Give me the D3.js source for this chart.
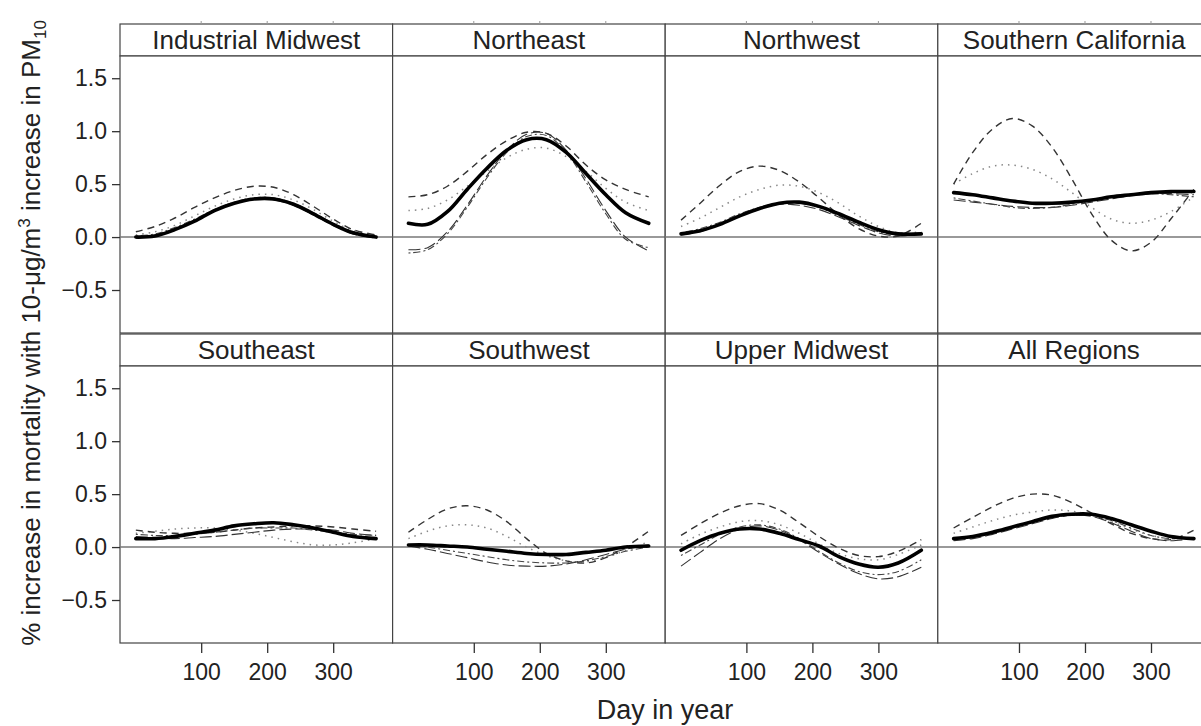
<!DOCTYPE html>
<html>
<head>
<meta charset="utf-8">
<script src="https://cdn.jsdelivr.net/npm/d3@7"></script>
<style>
  body { margin: 0; background: #fff; }
  text { font-family: "Liberation Sans", Arial, sans-serif; fill: #222; }
</style>
</head>
<body>
<div id="chart"></div>
<script>
const regions = ["Industrial Midwest", "Northeast", "Northwest", "Southern California",
                 "Southeast", "Southwest", "Upper Midwest", "All Regions"];
const days = [1, 30, 60, 90, 120, 150, 180, 210, 240, 270, 300, 330, 365];
const xTicks = [100, 200, 300];
const yTicks = [-0.5, 0, 0.5, 1.0, 1.5];

// one row per region, values at the days above
const solid = [
  [0.00, 0.01, 0.07, 0.15, 0.25, 0.32, 0.36, 0.36, 0.31, 0.22, 0.12, 0.04, 0.00],
  [0.13, 0.12, 0.24, 0.45, 0.65, 0.82, 0.92, 0.92, 0.80, 0.60, 0.40, 0.23, 0.13],
  [0.03, 0.06, 0.12, 0.20, 0.27, 0.32, 0.33, 0.29, 0.22, 0.14, 0.07, 0.03, 0.03],
  [0.42, 0.40, 0.37, 0.34, 0.32, 0.32, 0.33, 0.35, 0.38, 0.40, 0.42, 0.43, 0.43],
  [0.08, 0.08, 0.10, 0.13, 0.16, 0.20, 0.22, 0.23, 0.21, 0.18, 0.14, 0.10, 0.08],
  [0.02, 0.02, 0.01, 0.00, -0.02, -0.04, -0.06, -0.07, -0.07, -0.05, -0.03, 0.00, 0.01],
  [-0.03, 0.06, 0.13, 0.17, 0.17, 0.13, 0.07, 0.01, -0.09, -0.16, -0.19, -0.15, -0.03],
  [0.08, 0.10, 0.14, 0.19, 0.24, 0.29, 0.31, 0.31, 0.27, 0.21, 0.15, 0.10, 0.08]
];
const dashed = [
  [0.05, 0.10, 0.18, 0.28, 0.37, 0.44, 0.48, 0.47, 0.40, 0.29, 0.17, 0.07, 0.02],
  [0.38, 0.40, 0.48, 0.62, 0.78, 0.91, 0.99, 0.98, 0.86, 0.68, 0.54, 0.45, 0.38],
  [0.16, 0.32, 0.49, 0.62, 0.67, 0.63, 0.52, 0.37, 0.21, 0.08, 0.01, 0.01, 0.13],
  [0.50, 0.80, 1.02, 1.12, 1.05, 0.85, 0.55, 0.22, -0.03, -0.13, -0.05, 0.17, 0.45],
  [0.16, 0.14, 0.13, 0.13, 0.14, 0.16, 0.18, 0.19, 0.20, 0.20, 0.19, 0.17, 0.15],
  [0.14, 0.26, 0.36, 0.39, 0.35, 0.24, 0.08, -0.06, -0.13, -0.15, -0.10, 0.00, 0.15],
  [0.11, 0.22, 0.32, 0.39, 0.41, 0.35, 0.23, 0.10, -0.01, -0.08, -0.09, -0.04, 0.07],
  [0.18, 0.28, 0.38, 0.46, 0.50, 0.49, 0.42, 0.32, 0.22, 0.13, 0.08, 0.07, 0.16]
];
const dotted = [
  [0.02, 0.05, 0.11, 0.20, 0.29, 0.36, 0.40, 0.40, 0.35, 0.26, 0.15, 0.06, 0.02],
  [0.25, 0.27, 0.35, 0.48, 0.62, 0.75, 0.83, 0.84, 0.76, 0.62, 0.46, 0.33, 0.25],
  [0.10, 0.18, 0.28, 0.38, 0.45, 0.49, 0.48, 0.42, 0.32, 0.20, 0.10, 0.04, 0.05],
  [0.50, 0.60, 0.67, 0.68, 0.64, 0.55, 0.42, 0.28, 0.17, 0.13, 0.16, 0.24, 0.38],
  [0.13, 0.15, 0.17, 0.18, 0.18, 0.16, 0.13, 0.09, 0.05, 0.02, 0.02, 0.04, 0.08],
  [0.08, 0.15, 0.20, 0.21, 0.18, 0.10, 0.00, -0.08, -0.13, -0.14, -0.10, -0.03, 0.05],
  [0.03, 0.12, 0.19, 0.24, 0.25, 0.21, 0.13, 0.03, -0.06, -0.11, -0.12, -0.07, 0.02],
  [0.13, 0.19, 0.25, 0.30, 0.33, 0.35, 0.34, 0.30, 0.24, 0.17, 0.11, 0.08, 0.09]
];
const longdash = [
  [-0.01, 0.02, 0.08, 0.16, 0.25, 0.32, 0.36, 0.35, 0.30, 0.21, 0.11, 0.03, -0.01],
  [-0.12, -0.10, 0.05, 0.30, 0.58, 0.82, 0.97, 0.98, 0.82, 0.55, 0.25, 0.00, -0.13],
  [0.02, 0.05, 0.12, 0.20, 0.27, 0.31, 0.30, 0.26, 0.19, 0.11, 0.04, 0.01, 0.03],
  [0.35, 0.33, 0.31, 0.29, 0.28, 0.28, 0.30, 0.33, 0.36, 0.39, 0.41, 0.41, 0.40],
  [0.10, 0.09, 0.08, 0.09, 0.10, 0.12, 0.14, 0.16, 0.17, 0.17, 0.16, 0.13, 0.11],
  [0.01, -0.02, -0.06, -0.10, -0.14, -0.17, -0.18, -0.18, -0.16, -0.12, -0.07, -0.02, 0.02],
  [-0.18, -0.05, 0.08, 0.17, 0.20, 0.16, 0.07, -0.05, -0.16, -0.25, -0.30, -0.28, -0.19],
  [0.06, 0.08, 0.12, 0.17, 0.22, 0.27, 0.30, 0.29, 0.23, 0.15, 0.08, 0.06, 0.08]
];
const dotdash = [
  [0.01, 0.03, 0.09, 0.17, 0.26, 0.33, 0.37, 0.37, 0.32, 0.23, 0.13, 0.05, 0.00],
  [-0.15, -0.12, 0.03, 0.28, 0.56, 0.80, 0.95, 0.96, 0.80, 0.52, 0.22, -0.02, -0.10],
  [0.04, 0.08, 0.14, 0.22, 0.28, 0.32, 0.32, 0.28, 0.20, 0.12, 0.05, 0.02, 0.04],
  [0.37, 0.34, 0.31, 0.28, 0.27, 0.28, 0.31, 0.35, 0.38, 0.40, 0.41, 0.40, 0.38],
  [0.12, 0.11, 0.11, 0.12, 0.14, 0.16, 0.18, 0.18, 0.18, 0.16, 0.14, 0.12, 0.11],
  [0.02, 0.00, -0.03, -0.06, -0.09, -0.12, -0.14, -0.15, -0.15, -0.13, -0.09, -0.04, 0.00],
  [-0.08, 0.02, 0.12, 0.19, 0.21, 0.17, 0.08, -0.04, -0.15, -0.23, -0.26, -0.23, -0.12],
  [0.07, 0.09, 0.13, 0.18, 0.23, 0.28, 0.30, 0.30, 0.25, 0.18, 0.11, 0.08, 0.09]
];

const W = 1201, H = 726;
const plotLeft = 120, plotTop = 24;
const colW = 272.6, stripH = 32, panelH = 277, rowH = stripH + panelH + 1;
const frame = "#444";
const tickFont = "23px";

const svg = d3.select("#chart").append("svg")
    .attr("width", W)
    .attr("height", H);

const x = d3.scaleLinear().domain([-23, 390]).range([0, colW]);
const y = d3.scaleLinear().domain([-0.906, 1.71]).range([panelH, 0]);

// draw order: thin lines first, thick solid on top
const series = [
    { data: dotted, stroke: "#888", width: 1.5, dash: "1.5,5" },
    { data: dashed, stroke: "#333", width: 1.4, dash: "7,5" },
    { data: longdash, stroke: "#333", width: 1.1, dash: "12,4" },
    { data: dotdash, stroke: "#444", width: 1.1, dash: "2,3,7,3" },
    { data: solid, stroke: "#000", width: 3.6, dash: null }
];

const line = d3.line()
    .x((d, i) => x(days[i]))
    .y(d => y(d))
    .curve(d3.curveCatmullRom.alpha(0.5));

regions.forEach((name, r) => {
    const col = r % 4, row = Math.floor(r / 4);
    const g = svg.append("g")
        .attr("transform", "translate(" + (plotLeft + col * colW) + "," + (plotTop + row * rowH) + ")");

    // strip
    g.append("rect")
        .attr("width", colW).attr("height", stripH)
        .attr("fill", "#fff").attr("stroke", frame).attr("stroke-width", 1.2);
    g.append("text")
        .attr("x", colW / 2).attr("y", 25)
        .attr("text-anchor", "middle")
        .style("font-size", "26px")
        .text(name);

    const p = g.append("g").attr("transform", "translate(0," + stripH + ")");
    p.append("rect")
        .attr("width", colW).attr("height", panelH)
        .attr("fill", "#fff").attr("stroke", frame).attr("stroke-width", 1.2);

    // zero reference line
    p.append("line")
        .attr("x1", 0).attr("x2", colW)
        .attr("y1", y(0)).attr("y2", y(0))
        .attr("stroke", "#777").attr("stroke-width", 1.5);

    series.forEach(s => {
        p.append("path")
            .datum(s.data[r])
            .attr("fill", "none")
            .attr("stroke", s.stroke)
            .attr("stroke-width", s.width)
            .attr("stroke-dasharray", s.dash)
            .attr("stroke-linecap", s.dash ? "butt" : "round")
            .attr("d", line);
    });

    // small unlabeled ticks on top of first row
    if (row === 0) {
        g.selectAll(".tt").data(xTicks).enter().append("line")
            .attr("x1", d => x(d)).attr("x2", d => x(d))
            .attr("y1", 0).attr("y2", -3)
            .attr("stroke", "#999");
    }

    if (row === 1) {
        p.append("g")
            .attr("transform", "translate(0," + panelH + ")")
            .call(d3.axisBottom(x).tickValues(xTicks).tickSize(10).tickPadding(11).tickFormat(d3.format("d")))
            .call(a => a.select(".domain").remove())
            .call(a => a.selectAll("line").attr("stroke", "#333").attr("stroke-width", 1.3))
            .call(a => a.selectAll("text").style("font-size", tickFont)
                .style("font-family", "Liberation Sans, Arial, sans-serif").attr("fill", "#222"));
    }

    if (col === 0) {
        p.append("g")
            .call(d3.axisLeft(y).tickValues(yTicks).tickSize(8).tickPadding(5)
                .tickFormat(d => d < 0 ? "\u2212" + d3.format(".1f")(-d) : d3.format(".1f")(d)))
            .call(a => a.select(".domain").remove())
            .call(a => a.selectAll("line").attr("stroke", "#333").attr("stroke-width", 1.3))
            .call(a => a.selectAll("text").style("font-size", tickFont)
                .style("font-family", "Liberation Sans, Arial, sans-serif").attr("fill", "#222"));
    }
});

// axis titles
svg.append("text")
    .attr("x", 665).attr("y", 719)
    .attr("text-anchor", "middle")
    .style("font-size", "27px")
    .text("Day in year");

const yt = svg.append("text")
    .attr("transform", "translate(40,333) rotate(-90)")
    .attr("text-anchor", "middle")
    .style("font-size", "26px");
yt.append("tspan").text("% increase in mortality with 10-\u03bcg/m");
yt.append("tspan").attr("dy", -10).style("font-size", "17px").text("3");
yt.append("tspan").attr("dy", 10).text(" increase in PM");
yt.append("tspan").attr("dy", 6).style("font-size", "17px").text("10");
</script>
</body>
</html>
